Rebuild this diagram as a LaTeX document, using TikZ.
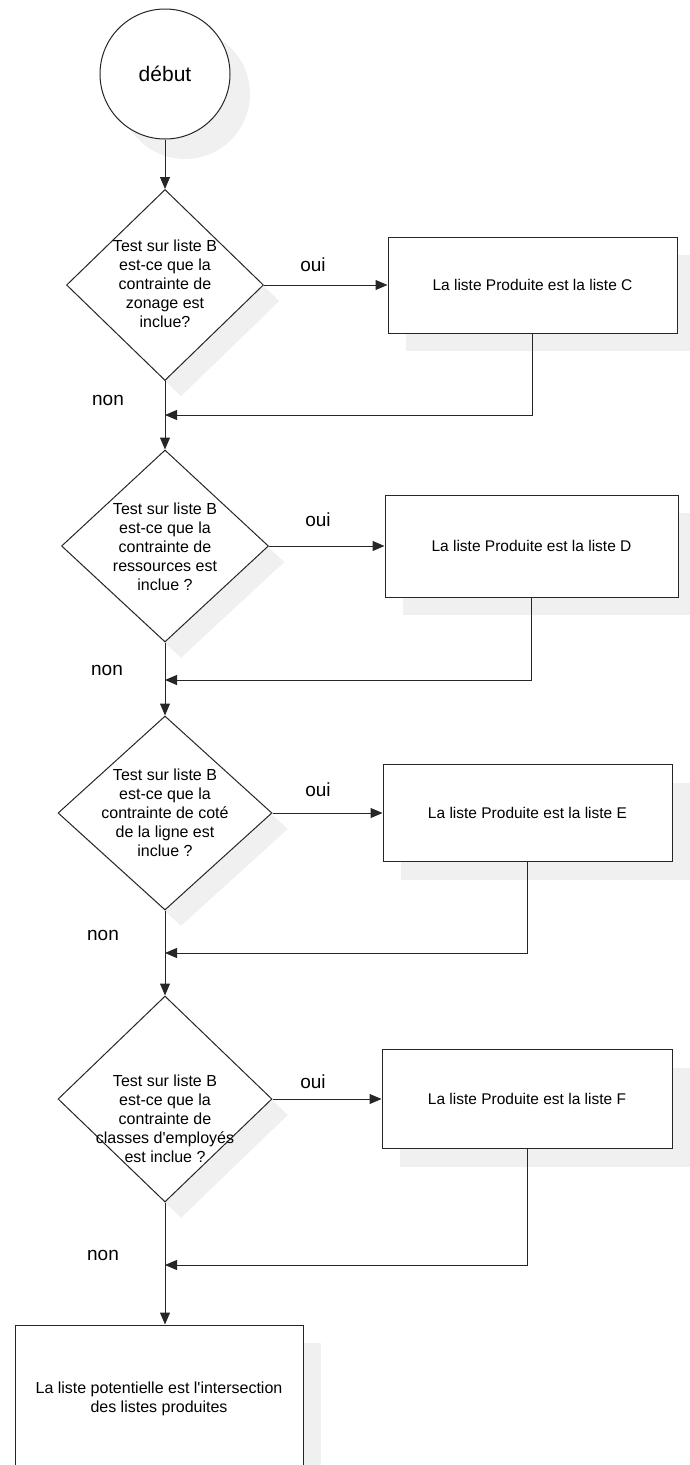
\documentclass[tikz,border=0pt]{standalone}
\usepackage{fontspec}
\setmainfont{Liberation Sans}[Ligatures=TeXOff]
\usetikzlibrary{shapes.geometric,arrows.meta,shadows}

\begin{document}
\begin{tikzpicture}[x=1pt,y=-1pt,
  line width=1pt,
  softshadow/.style={drop shadow={shadow xshift=#1,shadow yshift=-#1,fill=black!6,opacity=1}},
  startnode/.style={circle,draw=black!85,fill=white,minimum size=130pt,inner sep=0pt,
    font=\fontsize{21}{25}\selectfont,softshadow=20pt},
  decision/.style={diamond,draw=black!85,fill=white,inner sep=0pt,softshadow=16pt},
  dtext/.style={align=center,inner sep=0pt,font=\fontsize{16}{19}\selectfont},
  result/.style={rectangle,draw=black!85,fill=white,inner sep=0pt,align=center,
    font=\fontsize{15.5}{19}\selectfont,softshadow=18pt},
  lbl/.style={inner sep=0pt,font=\fontsize{19}{22}\selectfont},
  arr/.style={draw=black!85,-{Triangle[length=12pt,width=10pt]}}
]
\useasboundingbox (0,0) rectangle (690,1465);

% start
\node[startnode] (start) at (165,74) {début};

% first test
\node[decision,minimum width=197pt,minimum height=191pt] (d1) at (165,285) {};
\node[dtext] (t1) at (165,284) {Test sur liste B\\est-ce que la\\contrainte de\\zonage est\\inclue?};
\node[result,minimum width=289pt,minimum height=96pt] (rC) at (532.5,285) {La liste Produite est la liste C};
\node[lbl] (oui1) at (313,265) {oui};
\node[lbl] (non1) at (108,400) {non};
\coordinate (j1) at (165,415);

% second test
\node[decision,minimum width=207pt,minimum height=192pt] (d2) at (165,546) {};
\node[dtext] (t2) at (165,547) {Test sur liste B\\est-ce que la\\contrainte de\\ressources est\\inclue ?};
\node[result,minimum width=293pt,minimum height=102pt] (rD) at (531.5,546) {La liste Produite est la liste D};
\node[lbl] (oui2) at (318,520) {oui};
\node[lbl] (non2) at (107,670) {non};
\coordinate (j2) at (165,680);

% third test
\node[decision,minimum width=214pt,minimum height=194pt] (d3) at (165,813) {};
\node[dtext] (t3) at (165,813) {Test sur liste B\\est-ce que la\\contrainte de coté\\de la ligne est\\inclue ?};
\node[result,minimum width=289pt,minimum height=97pt] (rE) at (527.5,813) {La liste Produite est la liste E};
\node[lbl] (oui3) at (318,790) {oui};
\node[lbl] (non3) at (103,935) {non};
\coordinate (j3) at (165,953);

% fourth test
\node[decision,minimum width=214pt,minimum height=206pt] (d4) at (165,1099) {};
\node[dtext] (t4) at (165,1119) {Test sur liste B\\est-ce que la\\contrainte de\\classes d'employés\\est inclue ?};
\node[result,minimum width=290pt,minimum height=99pt] (rF) at (527,1099) {La liste Produite est la liste F};
\node[lbl] (oui4) at (313,1082) {oui};
\node[lbl] (non4) at (103,1255) {non};
\coordinate (j4) at (165,1265);

% final result
\node[result,font=\fontsize{16}{19}\selectfont,minimum width=288pt,minimum height=147pt] (fin) at (159,1398.5)
  {La liste potentielle est l'intersection\\des listes produites};

% main spine
\draw[arr] (start.south) -- (d1.north);
\draw[arr] (d1.south) -- (d2.north);
\draw[arr] (d2.south) -- (d3.north);
\draw[arr] (d3.south) -- (d4.north);
\draw[arr] (d4.south) -- (d4.south |- fin.north);

% yes branches
\draw[arr] (d1.east) -- (rC.west);
\draw[arr] (d2.east) -- (rD.west);
\draw[arr] (d3.east) -- (rE.west);
\draw[arr] (d4.east) -- (rF.west);

% returns to the spine
\draw[arr] (rC.south) |- (j1);
\draw[arr] (rD.south) |- (j2);
\draw[arr] (rE.south) |- (j3);
\draw[arr] (rF.south) |- (j4);
\end{tikzpicture}
\end{document}
